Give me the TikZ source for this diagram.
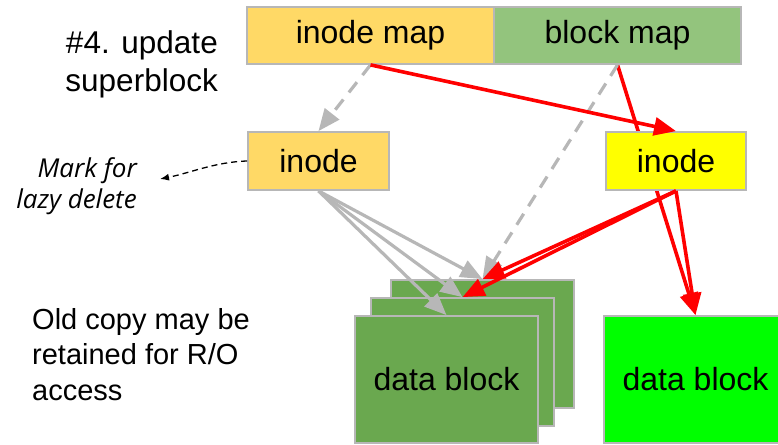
\documentclass[tikz,border=0pt]{standalone}
\usepackage{fontspec}
\setmainfont{Liberation Sans}
\newfontfamily\osans{Open Sans}
\usetikzlibrary{arrows.meta,backgrounds}
\definecolor{imapc}{HTML}{FFD966}
\definecolor{bmapc}{HTML}{93C47D}
\definecolor{dgreen}{HTML}{6AA84F}
\definecolor{lgreen}{HTML}{00FF00}
\definecolor{yel}{HTML}{FFFF00}
\definecolor{bord}{HTML}{B7B7B7}
\definecolor{redc}{HTML}{FF0000}
\begin{document}
\begin{tikzpicture}[x=1pt,y=-1pt,
  box/.style={draw=bord,line width=1.8pt,inner sep=0pt,font=\fontsize{32}{38}\selectfont},
  lbl/.style={inner sep=0pt,font=\fontsize{29}{35}\selectfont},
  big/.style={inner sep=0pt,font=\fontsize{31.5}{38}\selectfont},
  itl/.style={inner sep=0pt,font=\osans\itshape\fontsize{26}{31}\selectfont},
  grayarr/.style={draw=bord,line width=3.2pt,-{Triangle[length=22pt,width=18pt]}},
  graydash/.style={grayarr,dash pattern=on 13pt off 9pt},
  redarr/.style={draw=redc,line width=3.6pt,-{Triangle[length=22pt,width=18pt]}},
  blackdash/.style={draw=black,line width=1.3pt,dash pattern=on 6pt off 4pt,-{Latex[length=9pt,width=7pt]}}]
\useasboundingbox (0,0) rectangle (778,444);
\begin{scope}
\clip (0,0) rectangle (778,444);
% top maps
\node[box,fill=imapc,minimum width=247pt,minimum height=57pt] (imap) at (370.5,35.5) {inode map};
\node[box,fill=bmapc,minimum width=247pt,minimum height=57pt] (bmap) at (617.5,35.5) {block map};
% inodes
\node[box,fill=imapc,minimum width=141pt,minimum height=58pt] (linode) at (318.5,161) {inode};
\node[box,fill=yel,minimum width=140pt,minimum height=58pt] (rinode) at (676,161) {inode};
% stack of data blocks
\node[box,fill=dgreen,minimum width=183pt,minimum height=128pt] (back) at (482.5,344) {};
\node[box,fill=dgreen,minimum width=183pt,minimum height=128pt] (middle) at (462.5,362) {};
\node[box,fill=dgreen,minimum width=183pt,minimum height=127pt] (front) at (446.5,379.5) {data block};
\node[box,fill=lgreen,minimum width=183pt,minimum height=127pt] (rdata) at (695.5,379.5) {data block};
% texts
\node[big,anchor=base east] (t1) at (218,53) {\#4. update};
\node[big,anchor=base east] (t2) at (218,91) {superblock};
\node[itl,anchor=base east] (m1) at (137,177) {Mark for};
\node[itl,anchor=base east] (m2) at (137,208) {lazy delete};
\node[lbl,anchor=base west] (o1) at (32,329) {Old copy may be};
\node[lbl,anchor=base west] (o2) at (32,364) {retained for R/O};
\node[lbl,anchor=base west] (o3) at (32,400) {access};
% connectors
\coordinate (mk) at (160,179);
\draw[blackdash] (linode.west) .. controls (215,162) and (190,173) .. (mk);
\draw[graydash] (imap.south) -- (linode.north);
\draw[graydash] (bmap.south) -- (back.north);
\draw[grayarr] (linode.south) -- (back.north);
\draw[grayarr] (linode.south) -- (middle.north);
\draw[grayarr] (linode.south) -- (front.north);
\draw[redarr] (imap.south) -- (rinode.north);
\begin{scope}[on background layer]
\draw[redarr] (bmap.south) -- (rdata.north);
\end{scope}
\draw[redarr] (rinode.south) -- (rdata.north);
\draw[redarr] (rinode.south) -- (back.north);
\draw[redarr] (rinode.south) -- (middle.north);
\end{scope}
\end{tikzpicture}
\end{document}
